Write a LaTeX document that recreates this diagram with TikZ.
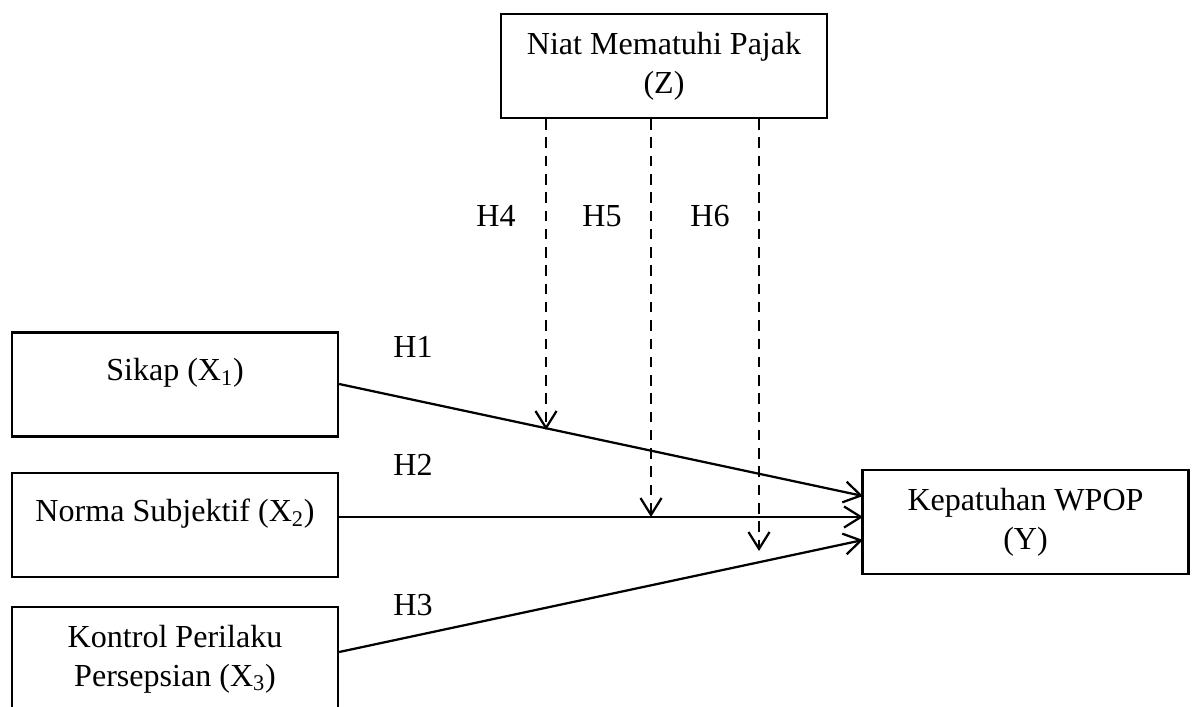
\documentclass[tikz,border=0pt]{standalone}
\usepackage{fontspec}
\setmainfont{Liberation Serif}
\usetikzlibrary{arrows.meta}
\begin{document}
\begin{tikzpicture}[x=0.025cm, y=-0.025cm,
    varbox/.style={draw, line width=1.6pt, minimum width=8.15cm, minimum height=2.6cm,
                   align=center, font=\fontsize{22.8}{27.5}\selectfont},
    onebox/.style={varbox, text height=16pt, text depth=21pt},
    hyp/.style={line width=1.6pt, -{Straight Barb[length=12pt,width=15pt]}},
    mod/.style={hyp, dash pattern=on 7.5pt off 5.5pt},
    hlab/.style={anchor=base, font=\fontsize{22.8}{27.5}\selectfont}]
  \useasboundingbox (0,0) rectangle (1195,707);
  % variables
  \node [varbox] (niat)    at (664,66)    {Niat Mematuhi Pajak\\(Z)};          % Z
  \node [onebox] (sikap)   at (175,384.5) {Sikap (X\textsubscript{1})};           % X1
  \node [onebox] (norma)   at (175,525)   {Norma Subjektif (X\textsubscript{2})}; % X2
  \node [varbox] (kontrol) at (175,659)   {Kontrol Perilaku\\Persepsian (X\textsubscript{3})}; % X3
  \node [varbox] (patuh)   at (1025.5,522) {Kepatuhan WPOP\\(Y)};              % Y
  % arrow ends
  \coordinate (y1) at (863,496);
  \coordinate (y2) at (863,517);
  \coordinate (y3) at (863,540);
  \coordinate (m4) at (546,430);
  \coordinate (m5) at (651,517);
  \coordinate (m6) at (759,551);
  % direct paths
  \draw [hyp] (sikap.east |- 0,384)   -- (y1);   % H1
  \draw [hyp] (norma.east |- 0,517)   -- (y2);   % H2
  \draw [hyp] (kontrol.east |- 0,652) -- (y3);   % H3
  % moderation
  \draw [mod] (niat.south -| m4) -- (m4);        % H4
  \draw [mod] (niat.south -| m5) -- (m5);        % H5
  \draw [mod] (niat.south -| m6) -- (m6);        % H6
  % labels
  \node [hlab] (h1) at (413,358) {H1};
  \node [hlab] (h2) at (413,475) {H2};
  \node [hlab] (h3) at (413,615) {H3};
  \node [hlab] (h4) at (496,227) {H4};
  \node [hlab] (h5) at (602,227) {H5};
  \node [hlab] (h6) at (710,227) {H6};
\end{tikzpicture}
\end{document}
